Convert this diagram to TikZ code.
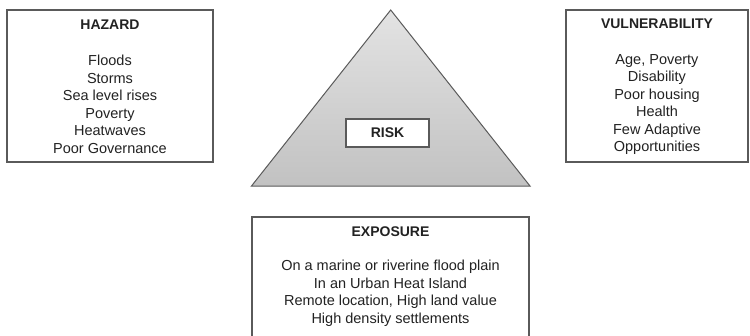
\documentclass[tikz,border=0pt]{standalone}
\usepackage{fontspec}
\setmainfont{Liberation Sans}
\definecolor{txt}{HTML}{222222}
\definecolor{edge}{HTML}{5A5A5A}
\begin{document}
\begin{tikzpicture}[x=1pt,y=-1pt,
  box/.style={draw=edge,line width=1.3pt,fill=white,inner sep=0pt},
  ttl/.style={text=txt,font=\fontsize{14}{17}\selectfont\bfseries,inner sep=0pt},
  lst/.style={text=txt,font=\fontsize{14.5}{17.5}\selectfont,align=center,inner sep=0pt}]
\clip (0,0) rectangle (750,335);
\fill[white] (0,0) rectangle (750,335);
% triangle
\coordinate (apex) at (390.7,10);
\coordinate (bl) at (251.5,186);
\coordinate (br) at (530,186);
\draw[edge,line width=1pt,top color=gray!22,bottom color=gray!48] (apex) -- (br) -- (bl) -- cycle;
% boxes
\node[box,minimum width=206pt,minimum height=152pt] (hazard) at (110,86) {};
\node[box,minimum width=182pt,minimum height=152pt] (vuln) at (657,86) {};
\node[box,minimum width=83pt,minimum height=28pt] (risk) at (387.5,133) {};
\node[box,minimum width=277pt,minimum height=140pt] (expo) at (390.5,287) {};
% texts
\node[ttl] (hazt) at (110,25) {HAZARD};
\node[lst] (hazl) at (110,104.5) {Floods\\Storms\\Sea level rises\\Poverty\\Heatwaves\\Poor Governance};
\node[ttl] (vult) at (657,24) {VULNERABILITY};
\node[lst] (vull) at (657,104.5) {Age, Poverty\\Disability\\Poor housing\\Health\\Few Adaptive\\Opportunities};
\node[ttl] (riskt) at (387.5,133) {RISK};
\node[ttl] (expt) at (390.5,232) {EXPOSURE};
\node[lst] (expl) at (390.5,293) {On a marine or riverine flood plain\\In an Urban Heat Island\\Remote location, High land value\\High density settlements};
\end{tikzpicture}
\end{document}
